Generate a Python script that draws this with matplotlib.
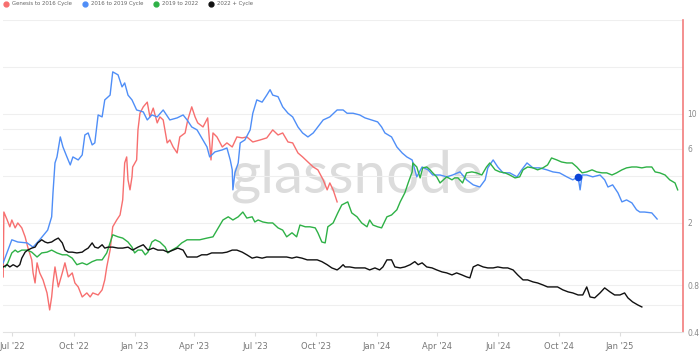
import matplotlib.pyplot as plt
import matplotlib.dates as mdates
from matplotlib.lines import Line2D
import pandas as pd

start = pd.Timestamp("2022-07-01")

red_days = [-14, -13, -8, -4, -1, 4, 8, 14, 19, 23,
            29, 31, 34, 37, 41, 46, 52, 56, 59, 61,
            64, 69, 75, 79, 84, 90, 94, 99, 105, 112,
            117, 121, 129, 135, 139, 142, 147, 151, 157, 162,
            166, 169, 172, 174, 177, 180, 181, 187, 189, 192,
            197, 203, 207, 212, 218, 222, 227, 233, 237, 242,
            248, 252, 260, 264, 270, 275, 279, 287, 294, 299,
            302, 308, 316, 323, 331, 338, 346, 353, 362, 373,
            383, 392, 400, 407, 415, 422, 430, 437, 445, 453,
            460, 468, 474, 478, 483, 489]
red_vals = [0.902, 2.35, 2.09, 1.89, 2.09, 1.86, 2.00, 1.86, 1.63, 1.40,
            1.16, 0.957, 0.825, 1.11, 0.957, 0.863, 0.712, 0.554, 0.671, 0.825,
            1.045, 0.778, 0.957, 1.11, 0.902, 0.957, 0.825, 0.778, 0.671, 0.712,
            0.671, 0.712, 0.691, 0.745, 0.863, 1.045, 1.34, 1.89, 2.09, 2.25,
            2.81, 4.85, 5.30, 3.78, 3.26, 3.95, 4.57, 5.07, 7.90, 10.1,
            11.1, 11.9, 9.57, 10.9, 8.76, 9.57, 9.15, 6.52, 6.81, 6.14,
            5.62, 7.12, 7.55, 9.15, 11.1, 9.57, 8.76, 8.25, 9.43, 5.07,
            7.55, 7.12, 6.14, 6.52, 6.14, 7.12, 7.02, 7.12, 6.61, 6.81,
            7.02, 7.90, 7.33, 7.55, 6.61, 6.52, 5.62, 5.30, 4.92, 4.57,
            4.38, 3.78, 3.26, 3.61, 3.26, 2.73]

blue_days = [-14, -1, 8, 22, 31, 41, 53, 59, 61, 64,
             67, 72, 76, 82, 87, 91, 99, 105, 109, 114,
             120, 124, 129, 135, 139, 147, 151, 159, 165, 169,
             174, 180, 187, 197, 203, 210, 218, 227, 237, 248,
             257, 263, 270, 278, 285, 293, 297, 305, 316, 323,
             328, 331, 332, 335, 340, 343, 350, 358, 362, 368,
             376, 383, 388, 392, 400, 407, 415, 422, 430, 437,
             445, 453, 460, 468, 478, 489, 498, 504, 513, 523,
             531, 541, 550, 556, 561, 571, 579, 587, 594, 602,
             609, 617, 626, 633, 644, 654, 663, 674, 684, 694,
             704, 712, 716, 724, 731, 739, 749, 760, 767, 775,
             784, 794, 805, 814, 824, 835, 844, 852, 855, 858,
             865, 874, 885, 892, 897, 904, 912, 918, 925, 933,
             940, 945, 952, 963, 971]
blue_vals = [1.11, 1.56, 1.51, 1.49, 1.40, 1.56, 1.80, 2.19, 3.12, 4.85,
             5.30, 7.12, 6.14, 5.30, 4.71, 5.30, 5.07, 5.46, 7.33, 7.55,
             6.33, 6.52, 9.85, 9.57, 12.3, 13.2, 18.6, 17.8, 14.9, 15.8,
             13.2, 12.3, 10.6, 10.3, 9.15, 9.85, 9.57, 10.6, 9.15, 9.43,
             9.85, 9.15, 8.25, 7.90, 7.02, 6.14, 5.30, 5.71, 5.88, 6.05,
             5.07, 4.38, 3.26, 4.19, 4.85, 6.52, 6.81, 7.90, 10.1, 12.3,
             11.9, 13.2, 14.3, 13.2, 12.9, 11.1, 10.1, 9.57, 8.25, 7.55,
             7.12, 7.55, 8.25, 9.15, 9.57, 10.6, 10.6, 10.1, 10.1, 9.85,
             9.43, 9.15, 8.89, 8.25, 7.55, 7.12, 6.14, 5.62, 5.30, 5.07,
             3.95, 4.57, 4.38, 4.06, 4.06, 3.95, 4.06, 4.25, 3.78, 3.51,
             3.40, 3.78, 4.51, 5.07, 4.57, 4.19, 4.19, 3.95, 4.38, 4.85,
             4.51, 4.51, 4.38, 4.25, 4.19, 3.95, 3.78, 3.95, 3.26, 4.06,
             4.06, 3.95, 4.06, 3.78, 3.40, 3.51, 3.12, 2.73, 2.81, 2.69,
             2.43, 2.35, 2.35, 2.32, 2.12]

green_days = [-11, -7, -1, 4, 8, 14, 22, 29, 37, 44,
              52, 59, 67, 75, 82, 90, 97, 105, 112, 120,
              127, 135, 142, 147, 151, 159, 166, 174, 180, 184,
              189, 195, 200, 204, 210, 215, 222, 230, 234, 240,
              248, 255, 263, 272, 282, 293, 302, 310, 317, 325,
              332, 340, 347, 353, 361, 365, 370, 377, 385, 392,
              400, 407, 413, 421, 428, 433, 441, 448, 456, 460,
              466, 471, 475, 483, 490, 496, 505, 511, 519, 526,
              534, 538, 543, 550, 556, 564, 571, 579, 584, 591,
              596, 602, 603, 609, 614, 618, 624, 629, 633, 639,
              644, 649, 654, 662, 666, 671, 678, 684, 692, 699,
              707, 714, 719, 727, 734, 742, 749, 757, 764, 769,
              776, 784, 791, 799, 806, 812, 820, 827, 835, 843,
              850, 858, 865, 873, 880, 888, 895, 903, 910, 918,
              925, 933, 940, 948, 955, 963, 968, 975, 983, 990,
              998, 1002]
green_vals = [1.045, 1.11, 1.285, 1.34, 1.30, 1.34, 1.34, 1.30, 1.21, 1.285,
              1.30, 1.34, 1.285, 1.25, 1.25, 1.19, 1.08, 1.11, 1.08, 1.13,
              1.16, 1.16, 1.285, 1.49, 1.68, 1.63, 1.60, 1.51, 1.40, 1.285,
              1.34, 1.34, 1.25, 1.30, 1.51, 1.56, 1.51, 1.40, 1.285, 1.34,
              1.40, 1.49, 1.56, 1.56, 1.56, 1.60, 1.63, 1.86, 2.09, 2.19,
              2.09, 2.19, 2.35, 2.15, 2.19, 2.03, 2.09, 2.03, 2.00, 2.00,
              1.86, 1.80, 1.63, 1.73, 1.63, 1.94, 1.89, 1.89, 1.86, 1.73,
              1.51, 1.49, 1.89, 2.00, 2.32, 2.61, 2.73, 2.32, 2.19, 2.00,
              1.89, 2.09, 1.94, 1.89, 1.86, 2.19, 2.25, 2.43, 2.73, 3.12,
              3.61, 4.25, 4.85, 4.57, 3.89, 4.51, 4.57, 4.38, 4.19, 3.95,
              3.61, 3.78, 3.95, 3.78, 3.89, 3.89, 3.61, 4.19, 4.25, 4.19,
              4.06, 4.57, 4.85, 4.38, 4.25, 4.19, 4.06, 3.89, 3.95, 4.38,
              4.57, 4.51, 4.38, 4.51, 4.71, 5.22, 5.07, 4.92, 4.85, 4.85,
              4.57, 4.19, 4.25, 4.38, 4.25, 4.19, 4.19, 4.06, 4.19, 4.38,
              4.51, 4.57, 4.57, 4.51, 4.57, 4.57, 4.25, 4.19, 4.06, 3.78,
              3.61, 3.26]

black_days = [-14, -8, -4, 1, 7, 11, 14, 19, 23, 29,
              34, 38, 44, 49, 53, 59, 64, 69, 75, 79,
              84, 90, 97, 105, 109, 114, 120, 124, 129, 135,
              139, 144, 151, 159, 166, 174, 181, 189, 197, 204,
              212, 219, 227, 234, 242, 249, 257, 263, 270, 278,
              285, 293, 300, 308, 316, 323, 331, 338, 346, 353,
              361, 368, 376, 383, 391, 398, 406, 413, 421, 428,
              436, 444, 451, 459, 466, 474, 481, 489, 493, 498,
              501, 508, 516, 523, 531, 538, 546, 553, 558, 564,
              571, 576, 584, 591, 599, 606, 611, 617, 624, 632,
              639, 647, 654, 662, 669, 677, 684, 689, 694, 701,
              709, 716, 724, 731, 739, 746, 754, 761, 769, 776,
              784, 791, 799, 806, 814, 821, 829, 837, 844, 852,
              859, 865, 870, 877, 885, 892, 900, 907, 915, 922,
              927, 934, 942, 948]
black_vals = [1.045, 1.08, 1.045, 1.08, 1.045, 1.08, 1.19, 1.30, 1.34, 1.38,
              1.40, 1.49, 1.56, 1.51, 1.49, 1.51, 1.56, 1.60, 1.49, 1.34,
              1.30, 1.30, 1.285, 1.30, 1.34, 1.38, 1.49, 1.40, 1.38, 1.45,
              1.38, 1.40, 1.40, 1.38, 1.38, 1.40, 1.34, 1.40, 1.45, 1.34,
              1.38, 1.34, 1.34, 1.30, 1.34, 1.38, 1.34, 1.21, 1.21, 1.21,
              1.25, 1.25, 1.285, 1.285, 1.285, 1.30, 1.34, 1.34, 1.30, 1.25,
              1.19, 1.21, 1.19, 1.21, 1.21, 1.21, 1.21, 1.21, 1.19, 1.21,
              1.19, 1.16, 1.16, 1.16, 1.13, 1.08, 1.03, 1.00, 1.03, 1.08,
              1.045, 1.045, 1.03, 1.03, 1.03, 1.00, 1.03, 1.00, 1.045, 1.16,
              1.16, 1.045, 1.03, 1.045, 1.08, 1.13, 1.08, 1.11, 1.045, 1.03,
              1.00, 0.971, 0.957, 0.929, 0.957, 0.929, 0.902, 0.889, 1.045, 1.08,
              1.045, 1.03, 1.03, 1.045, 1.03, 1.03, 1.00, 0.929, 0.863, 0.863,
              0.838, 0.825, 0.801, 0.778, 0.778, 0.778, 0.745, 0.723, 0.712, 0.691,
              0.691, 0.778, 0.671, 0.662, 0.712, 0.767, 0.723, 0.691, 0.691, 0.712,
              0.662, 0.624, 0.596, 0.579]

marker_day = 852  # highlighted point on the 2016-2019 line

labels = ["Genesis to 2016 Cycle", "2016 to 2019 Cycle", "2019 to 2022", "2022 + Cycle"]
colors = ["#f76f6f", "#4f8ef7", "#2eb146", "#111111"]

x_ticks = ["2022-07-01", "2022-10-01", "2023-01-01", "2023-04-01", "2023-07-01",
           "2023-10-01", "2024-01-01", "2024-04-01", "2024-07-01", "2024-10-01",
           "2025-01-01"]
y_ticks = [0.4, 0.8, 2, 6, 10]
y_tick_labels = ["0.4", "0.8", "2", "6", "10"]
y_grid = [0.6, 0.8, 1, 2, 4, 6, 8, 10, 20, 40]


def to_dates(days):
    return start + pd.to_timedelta(days, unit="D")


fig = plt.figure(figsize=(7, 3.52), dpi=100)
ax = fig.add_axes([3 / 700, 20 / 352, 680 / 700, 312 / 352])

ax.text(0.52, 0.5, "glassnode", transform=ax.transAxes, fontsize=42,
        family="Lato", color="#dcdcdc", ha="center", va="center", zorder=0)

for v in y_grid:
    ax.axhline(v, color="#efefef", lw=0.8, zorder=0)

series = [(red_days, red_vals), (blue_days, blue_vals),
          (green_days, green_vals), (black_days, black_vals)]
for (d, v), c in zip(series, colors):
    ax.plot(to_dates(d), v, color=c, lw=1.0, zorder=2)

i = blue_days.index(marker_day)
ax.plot(to_dates([blue_days[i]]), [blue_vals[i]], "o", color="#0b44d8", ms=4.5, zorder=4)

ax.set_yscale("log")
ax.set_ylim(0.4, 40)
ax.set_xlim(start - pd.Timedelta(days=14.3), start + pd.Timedelta(days=1010))

ax.yaxis.tick_right()
ax.set_yticks(y_ticks)
ax.set_yticklabels(y_tick_labels)
ax.minorticks_off()
ax.tick_params(axis="y", length=0, pad=3, labelsize=5.5, labelcolor="#8a8a8a")

ax.set_xticks(pd.to_datetime(x_ticks))
ax.xaxis.set_major_formatter(mdates.DateFormatter("%b '%y"))
ax.tick_params(axis="x", length=3, color="#dddddd", pad=4, labelsize=6, labelcolor="#777777")

ax.spines["top"].set_visible(False)
ax.spines["left"].set_visible(False)
ax.spines["bottom"].set_color("#e2e2e2")
ax.spines["right"].set_color("#f27d7d")
ax.spines["right"].set_linewidth(1.2)

handles = [Line2D([], [], marker="o", ls="", color=c, markersize=3.5) for c in colors]
fig.legend(handles, labels, loc="upper left", bbox_to_anchor=(0.0, 1.005), ncol=4,
           frameon=False, fontsize=3.9, handlelength=1.0, handletextpad=0.6,
           columnspacing=1.9, labelcolor="#666666", borderaxespad=0.2)

fig.savefig("out.png", dpi=100)
